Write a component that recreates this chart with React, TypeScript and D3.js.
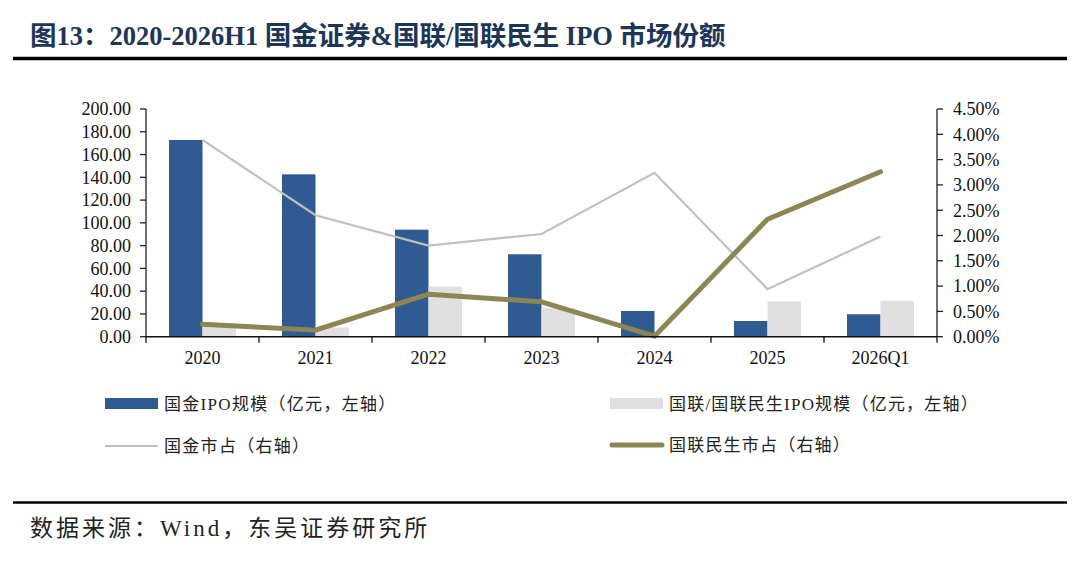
import React from "react";
import * as d3 from "d3";

const categories = ["2020", "2021", "2022", "2023", "2024", "2025", "2026Q1"];
const guojinIPO = [172.8, 142.6, 94.0, 72.4, 22.6, 13.8, 19.7];
const guolianIPO = [9.0, 8.2, 44.0, 25.0, 0.4, 31.0, 31.6];
const guojinShare = [3.89, 2.4, 1.8, 2.03, 3.24, 0.94, 1.98];
const guolianShare = [0.245, 0.13, 0.84, 0.69, 0.01, 2.32, 3.26];
const leftTicks = [0, 20, 40, 60, 80, 100, 120, 140, 160, 180, 200];
const rightTicks = [0, 0.5, 1, 1.5, 2, 2.5, 3, 3.5, 4, 4.5];

const titleText = "图13：2020-2026H1 国金证券&国联/国联民生 IPO 市场份额";
const legendLabels = [
  "国金IPO规模（亿元，左轴）",
  "国联/国联民生IPO规模（亿元，左轴）",
  "国金市占（右轴）",
  "国联民生市占（右轴）",
];
const sourceText = "数据来源：Wind，东吴证券研究所";

const BLUE = "#2f5b92";
const LIGHT = "#e0e0e0";
const GREYLINE = "#c0c0c0";
const OLIVE = "#8c8655";
const SERIF = "'Times New Roman', 'Liberation Serif', 'Noto Sans CJK SC', serif";

export default function App() {
  const x = d3.scaleBand<string>().domain(categories).range([146, 937]).padding(0);
  const yL = d3.scaleLinear().domain([0, 200]).range([336.7, 109]);
  const yR = d3.scaleLinear().domain([0, 4.5]).range([336.7, 109]);
  const barW = 33.5;
  const cx = (c: string) => (x(c) as number) + x.bandwidth() / 2;

  const line1 = d3
    .line<number>()
    .x((_, i) => cx(categories[i]))
    .y((d) => yR(d));

  const bounds = [...categories.map((c) => x(c) as number), 937];

  return (
    <svg
      width={1080}
      height={566}
      style={{ position: "absolute", left: 0, top: 0, background: "#fff" }}
      fontFamily={SERIF}
    >
      <rect x={0} y={0} width={1080} height={566} fill="#fff" />
      {/* Title */}
      <text x={30} y={45} fontSize={26.5} fontWeight="bold" fill="#1d3658">
        {titleText}
      </text>
      <line x1={13} x2={1067} y1={58.5} y2={58.5} stroke="#000" strokeWidth={3.5} />

      {/* Bars */}
      {categories.map((c, i) => (
        <g key={c}>
          <rect x={cx(c) - barW} y={yL(guojinIPO[i])} width={barW} height={yL(0) - yL(guojinIPO[i])} fill={BLUE} />
          <rect x={cx(c)} y={yL(guolianIPO[i])} width={barW} height={yL(0) - yL(guolianIPO[i])} fill={LIGHT} />
        </g>
      ))}

      {/* Lines */}
      <path d={line1(guojinShare) || ""} fill="none" stroke={GREYLINE} strokeWidth={2.2} />
      <path d={line1(guolianShare) || ""} fill="none" stroke={OLIVE} strokeWidth={5} strokeLinejoin="round" strokeLinecap="round" />

      {/* Left axis */}
      <line x1={146} x2={146} y1={yL(200)} y2={yL(0)} stroke="#222" strokeWidth={1.3} />
      {leftTicks.map((t) => (
        <g key={"l" + t}>
          <line x1={140} x2={146} y1={yL(t)} y2={yL(t)} stroke="#222" strokeWidth={1.3} />
          <text x={131} y={yL(t)} dy="0.35em" textAnchor="end" fontSize={18} fill="#111">
            {t.toFixed(2)}
          </text>
        </g>
      ))}

      {/* Right axis */}
      <line x1={937} x2={937} y1={yR(4.5)} y2={yR(0)} stroke="#222" strokeWidth={1.3} />
      {rightTicks.map((t) => (
        <g key={"r" + t}>
          <line x1={937} x2={943} y1={yR(t)} y2={yR(t)} stroke="#222" strokeWidth={1.3} />
          <text x={953} y={yR(t)} dy="0.35em" textAnchor="start" fontSize={18} fill="#111">
            {t.toFixed(2) + "%"}
          </text>
        </g>
      ))}

      {/* X axis */}
      <line x1={146} x2={937} y1={yL(0)} y2={yL(0)} stroke="#111" strokeWidth={1.6} />
      {bounds.map((b, i) => (
        <line key={"xt" + i} x1={b} x2={b} y1={yL(0)} y2={yL(0) + 6} stroke="#111" strokeWidth={1.3} />
      ))}
      {categories.map((c) => (
        <text key={"xl" + c} x={cx(c)} y={358} dy="0.35em" textAnchor="middle" fontSize={18} fill="#111">
          {c}
        </text>
      ))}

      {/* Legend */}
      <rect x={105} y={398} width={53} height={11} fill={BLUE} />
      <text x={164} y={404} dy="0.35em" fontSize={17} letterSpacing={1.3} fill="#222">{legendLabels[0]}</text>
      <rect x={610} y={398} width={53} height={11} fill={LIGHT} />
      <text x={669} y={404} dy="0.35em" fontSize={17} letterSpacing={1.2} fill="#222">{legendLabels[1]}</text>
      <line x1={105} x2={158} y1={446} y2={446} stroke={GREYLINE} strokeWidth={2.2} />
      <text x={164} y={446} dy="0.35em" fontSize={17} letterSpacing={1.3} fill="#222">{legendLabels[2]}</text>
      <line x1={612} x2={662} y1={445} y2={445} stroke={OLIVE} strokeWidth={5} strokeLinecap="round" />
      <text x={669} y={445} dy="0.35em" fontSize={17} letterSpacing={1.2} fill="#222">{legendLabels[3]}</text>

      {/* Footer */}
      <line x1={13} x2={1067} y1={502.5} y2={502.5} stroke="#000" strokeWidth={2.5} />
      <text x={30} y={528} dy="0.35em" fontSize={23} letterSpacing={3} fill="#222">
        {sourceText}
      </text>
    </svg>
  );
}
